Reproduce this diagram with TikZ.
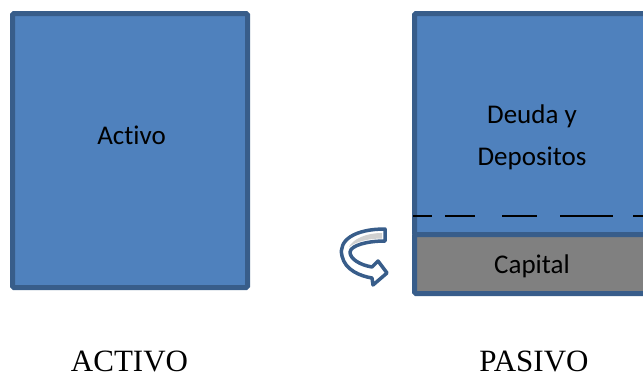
\documentclass[tikz,border=0pt]{standalone}
\usepackage{fontspec}
\setmainfont{Liberation Serif}
\newfontfamily\boxfont[Ligatures=NoCommon]{Carlito}
\definecolor{boxblue}{HTML}{4F81BD}
\definecolor{edgeblue}{HTML}{385D8A}
\definecolor{capgray}{HTML}{808080}
\definecolor{ribbongray}{HTML}{D0D0D0}
\tikzset{
  block/.style={draw=edgeblue, line width=5pt, rounded corners=1.5pt, inner sep=0pt, outer sep=0pt},
  boxlabel/.style={font=\boxfont\fontsize{27}{30}\selectfont, anchor=base, inner sep=0pt},
  sidelabel/.style={font=\fontsize{31}{34}\selectfont, anchor=base, inner sep=0pt},
}
\begin{document}
\begin{tikzpicture}[x=1pt,y=-1pt]
\useasboundingbox (0,0) rectangle (643,378);
\clip (0,0) rectangle (643,378);

% Asset column
\node[block, fill=boxblue, minimum width=235pt, minimum height=274pt] (activo) at (130,150.5) {};
\node[boxlabel] (activotxt) at (131.5,144) {Activo};

% Liabilities column: debt on top, equity below (runs past the right edge)
\node[block, fill=boxblue, minimum width=245.5pt, minimum height=221pt] (deuda) at (537.25,124) {};
\node[block, fill=capgray, minimum width=245.5pt, minimum height=59pt] (capital) at (537.25,264) {};
\node[boxlabel] (deudatxt1) at (532,123) {Deuda y};
\node[boxlabel] (deudatxt2) at (532,165) {Depositos};
\node[boxlabel] (capitaltxt) at (532,273) {Capital};

% Dashed divider inside the debt block
\coordinate (dashA) at (413,215.5);
\coordinate (dashB) at (660,215.5);
\draw[black, line width=2pt, dash pattern=on 19pt off 13pt on 30pt off 27pt on 35pt off 23pt on 53pt off 20pt on 30pt off 10pt] (dashA) -- (dashB);

% U-turn ribbon arrow pointing back at the equity block
\path[fill=white, draw=edgeblue, line width=3.5pt, line join=round]
  (385,229) .. controls (355,229) and (338,240) .. (342,256)
  .. controls (345,270) and (360,276) .. (372,278)
  -- (373,285) -- (387,273) -- (378,261) -- (372,267)
  .. controls (360,265) and (350,259) .. (350,252)
  .. controls (351,245) and (368,241) .. (385,241) -- cycle;
\path[fill=ribbongray]
  (382,233) .. controls (366,233) and (353,239) .. (349,247)
  .. controls (357,241) and (370,238.5) .. (382,238.5) -- cycle;

% Column captions
\node[sidelabel] (activocap) at (129.5,371) {ACTIVO};
\node[sidelabel] (pasivocap) at (534,371) {PASIVO};
\end{tikzpicture}
\end{document}
